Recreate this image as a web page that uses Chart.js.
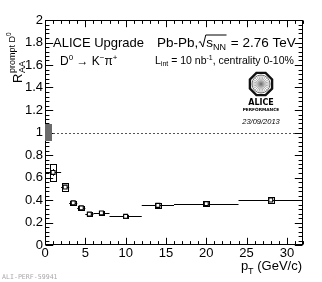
<!DOCTYPE html>
<html><head><meta charset="utf-8">
<script src="https://cdn.jsdelivr.net/npm/chart.js@4"></script>
<style>html,body{margin:0;padding:0;background:#fff}canvas{display:block}</style>
</head><body>
<canvas id="c" width="322" height="282"></canvas>
<script>
// ---- data ----
const ptCenter = [1, 2.5, 3.5, 4.5, 5.5, 7, 10, 14, 20, 28];
const ptLow    = [0, 2, 3, 4, 5, 6, 8, 12, 16, 24];
const ptHigh   = [2, 3, 4, 5, 6, 8, 12, 16, 24, 32];
const raa      = [0.645, 0.515, 0.375, 0.33, 0.275, 0.285, 0.255, 0.352, 0.368, 0.40];
const statErr  = [0.03, 0.015, 0.01, 0.008, 0.008, 0.008, 0.008, 0.01, 0.01, 0.012];
const systErr  = [0.074, 0.033, 0.018, 0.016, 0.015, 0.015, 0.014, 0.02, 0.02, 0.025];
const globalUnc = [0.925, 1.075];
const xTicks = [0, 5, 10, 15, 20, 25, 30];
const xTickLabels = ['0', '5', '10', '15', '20', '25', '30'];
const yTicks = [0, 0.2, 0.4, 0.6, 0.8, 1, 1.2, 1.4, 1.6, 1.8, 2];
const yTickLabels = ['0', '0.2', '0.4', '0.6', '0.8', '1', '1.2', '1.4', '1.6', '1.8', '2'];

// ---- style constants ----
const FONT = "'Liberation Sans', Arial, Helvetica, sans-serif";
const boxHalfWidth = 0.35;
const globalBoxWidth = 0.85;

function rich(ctx, x, y, parts) {
  let cx = x;
  for (const p of parts) {
    ctx.font = (p.style || '') + ' ' + p.size + 'px ' + (p.family || FONT);
    const w = ctx.measureText(p.t).width;
    ctx.fillText(p.t, cx + (p.dx || 0), y + (p.dy || 0));
    cx += w + (p.dx || 0);
  }
  return cx - x;
}
function richWidth(ctx, parts) {
  let w = 0;
  for (const p of parts) {
    ctx.font = (p.style || '') + ' ' + p.size + 'px ' + (p.family || FONT);
    w += ctx.measureText(p.t).width + (p.dx || 0);
  }
  return w;
}
const h = v => Math.round(v) + 0.5;

const rootPlugin = {
  id: 'rootStyle',
  beforeDatasetsDraw(chart) {
    const { ctx, chartArea: a, scales: { x, y } } = chart;
    ctx.save();
    // dashed unity line
    ctx.strokeStyle = '#555';
    ctx.lineWidth = 1;
    ctx.setLineDash([2, 2]);
    const yu = h(y.getPixelForValue(1));
    ctx.beginPath(); ctx.moveTo(a.left, yu); ctx.lineTo(a.right, yu); ctx.stroke();
    ctx.setLineDash([]);
    // error bars and systematic boxes
    ctx.strokeStyle = '#000';
    for (let i = 0; i < ptCenter.length; i++) {
      const py = h(y.getPixelForValue(raa[i]));
      const px = h(x.getPixelForValue(ptCenter[i]));
      ctx.beginPath();
      ctx.moveTo(x.getPixelForValue(ptLow[i]), py);
      ctx.lineTo(x.getPixelForValue(ptHigh[i]), py);
      ctx.moveTo(px, y.getPixelForValue(raa[i] - statErr[i]));
      ctx.lineTo(px, y.getPixelForValue(raa[i] + statErr[i]));
      ctx.stroke();
      const bx0 = h(x.getPixelForValue(ptCenter[i] - boxHalfWidth));
      const bx1 = h(x.getPixelForValue(ptCenter[i] + boxHalfWidth));
      const by0 = h(y.getPixelForValue(raa[i] + systErr[i]));
      const by1 = h(y.getPixelForValue(raa[i] - systErr[i]));
      ctx.strokeRect(bx0, by0, bx1 - bx0, by1 - by0);
    }
    ctx.restore();
  },
  afterDatasetsDraw(chart) {
    const { ctx, chartArea: a, scales: { x, y } } = chart;
    ctx.save();
    ctx.strokeStyle = '#000';
    ctx.lineWidth = 1;
    const L = h(a.left), R = h(a.right) - 1, T = h(a.top), B = h(a.bottom) - 1;
    ctx.strokeRect(L, T, R - L, B - T);
    ctx.beginPath();
    // y ticks (inside, left and right)
    const yMajor = 7.7, yMinor = 3.9;
    for (let k = 0; k <= 50; k++) {
      const v = k * 0.04;
      const py = h(y.getPixelForValue(v));
      const len = (k % 5 === 0) ? yMajor : yMinor;
      ctx.moveTo(L, py); ctx.lineTo(L + len, py);
      ctx.moveTo(R, py); ctx.lineTo(R - len, py);
    }
    // x ticks (inside, bottom and top)
    const xMajor = 6.7, xMinor = 3.4;
    for (let v = 0; v <= 32; v++) {
      const px = h(x.getPixelForValue(v));
      const len = (v % 5 === 0) ? xMajor : xMinor;
      ctx.moveTo(px, B); ctx.lineTo(px, B - len);
      ctx.moveTo(px, T); ctx.lineTo(px, T + len);
    }
    ctx.stroke();
    // global normalisation box (drawn over the frame)
    ctx.fillStyle = '#6a6a6a';
    const gx0 = x.getPixelForValue(0), gx1 = x.getPixelForValue(globalBoxWidth);
    const gy0 = y.getPixelForValue(globalUnc[1]), gy1 = y.getPixelForValue(globalUnc[0]);
    ctx.fillRect(Math.round(gx0), Math.round(gy0), Math.round(gx1 - gx0), Math.round(gy1 - gy0));
    ctx.restore();
  },
  afterDraw(chart) {
    const { ctx } = chart;
    ctx.save();
    ctx.fillStyle = '#000';
    ctx.textBaseline = 'alphabetic';
    ctx.textAlign = 'left';

    // y-axis title (rotated)
    ctx.save();
    ctx.translate(21.5, 83);
    ctx.rotate(-Math.PI / 2);
    ctx.font = '13px ' + FONT;
    ctx.fillText('R', 0, 0);
    const wR = ctx.measureText('R').width + 0.5;
    ctx.font = '9px ' + FONT;
    ctx.fillText('AA', wR, 3.5);
    rich(ctx, wR, -7, [{ t: 'prompt D', size: 9 }, { t: '0', size: 6.5, dy: -3.5 }]);
    ctx.restore();

    // x-axis title
    const xt = [{ t: 'p', size: 13 }, { t: 'T', size: 9, dy: 3.5 }, { t: ' (GeV/c)', size: 13 }];
    rich(ctx, 302 - richWidth(ctx, xt), 270, xt);

    // labels
    rich(ctx, 53, 47, [{ t: 'ALICE Upgrade', size: 13 }]);
    rich(ctx, 60, 64.5, [
      { t: 'D', size: 12 }, { t: '0', size: 8, dy: -5 },
      { t: ' \u2192 ', size: 12 },
      { t: 'K', size: 12 }, { t: '\u2212', size: 8, dy: -5 },
      { t: '\u03c0', size: 12 }, { t: '+', size: 8, dy: -5 }
    ]);
    // Pb-Pb line with sqrt
    let cx = 157;
    const by = 46.5;
    cx += rich(ctx, cx, by, [{ t: 'Pb-Pb,', size: 13.5 }]);
    ctx.beginPath();
    ctx.lineWidth = 1;
    ctx.strokeStyle = '#000';
    ctx.moveTo(cx + 0.5, by - 4);
    ctx.lineTo(cx + 2, by - 5);
    ctx.lineTo(cx + 4.5, by + 0.5);
    ctx.lineTo(cx + 7.5, by - 11.5);
    cx += 8;
    cx += rich(ctx, cx, by, [{ t: 's', size: 13.5 }, { t: 'NN', size: 9, dy: 3 }]);
    ctx.lineTo(cx + 0.5, by - 11.5);
    ctx.stroke();
    rich(ctx, cx + 1, by, [{ t: ' = 2.76 TeV', size: 13.5 }]);

    rich(ctx, 155, 63.5, [
      { t: 'L', size: 10.5 }, { t: 'int', size: 7, dy: 2.5 },
      { t: ' = 10 nb', size: 10.5 }, { t: '-1', size: 7, dy: -4 },
      { t: ', centrality 0-10%', size: 10.5 }
    ]);

    // ALICE performance logo
    const lx = 261, ly = 84, r = 12;
    ctx.save();
    ctx.fillStyle = '#fff';
    ctx.strokeStyle = '#111';
    ctx.lineWidth = 2.4;
    ctx.beginPath();
    for (let k = 0; k < 8; k++) {
      const ang = Math.PI / 8 + k * Math.PI / 4;
      const px = lx + r * Math.cos(ang), py = ly + r * Math.sin(ang);
      if (k === 0) ctx.moveTo(px, py); else ctx.lineTo(px, py);
    }
    ctx.closePath(); ctx.fill(); ctx.stroke();
    ctx.lineWidth = 0.6;
    ctx.strokeStyle = '#777';
    ctx.beginPath();
    for (let k = 0; k < 24; k++) {
      const ang = k * Math.PI / 12;
      ctx.moveTo(lx, ly);
      ctx.lineTo(lx + 9 * Math.cos(ang), ly + 9 * Math.sin(ang));
    }
    ctx.stroke();
    ctx.lineWidth = 0.8;
    ctx.strokeStyle = '#555';
    ctx.beginPath(); ctx.arc(lx, ly, 9, 0, 2 * Math.PI); ctx.stroke();
    ctx.restore();
    ctx.textAlign = 'center';
    ctx.font = 'bold 8px ' + "'DejaVu Sans', sans-serif";
    ctx.fillText('ALICE', lx, 105);
    ctx.font = 'bold 4.3px ' + "'DejaVu Sans', sans-serif";
    ctx.fillText('PERFORMANCE', lx, 111);
    ctx.font = 'italic 7.5px ' + FONT;
    ctx.fillText('23/09/2013', lx, 124);

    // bottom-left tag
    ctx.textAlign = 'left';
    ctx.fillStyle = '#a8a8a8';
    ctx.font = "6.6px 'DejaVu Sans Mono', 'Liberation Mono', monospace";
    ctx.fillText('ALI-PERF-59941', 2, 279);
    ctx.restore();
  }
};

new Chart(document.getElementById('c'), {
  type: 'scatter',
  data: {
    datasets: [{
      data: ptCenter.map((v, i) => ({ x: v, y: raa[i] })),
      pointStyle: 'rect',
      pointRadius: 2.8,
      pointBorderWidth: 1.1,
      pointBorderColor: '#000',
      pointBackgroundColor: '#fff',
      showLine: false
    }]
  },
  options: {
    responsive: false,
    devicePixelRatio: 1,
    animation: false,
    layout: { padding: { left: 0, top: 20, right: 19, bottom: 0 } },
    plugins: { legend: { display: false }, tooltip: { enabled: false } },
    scales: {
      x: {
        type: 'linear', min: 0, max: 32,
        grid: { display: false, drawTicks: false },
        border: { display: false },
        afterBuildTicks: s => { s.ticks = xTicks.map(v => ({ value: v })); },
        afterFit: s => { s.height = 37; },
        ticks: {
          padding: 1, color: '#000', font: { family: FONT, size: 13 },
          maxRotation: 0, autoSkip: false,
          callback: (v, i) => xTickLabels[i]
        }
      },
      y: {
        type: 'linear', min: 0, max: 2,
        grid: { display: false, drawTicks: false },
        border: { display: false },
        afterBuildTicks: s => { s.ticks = yTicks.map(v => ({ value: v })); },
        afterFit: s => { s.width = 45; },
        ticks: {
          padding: 2, color: '#000', font: { family: FONT, size: 13 },
          autoSkip: false,
          callback: (v, i) => yTickLabels[i]
        }
      }
    }
  },
  plugins: [rootPlugin]
});
</script>
</body></html>
